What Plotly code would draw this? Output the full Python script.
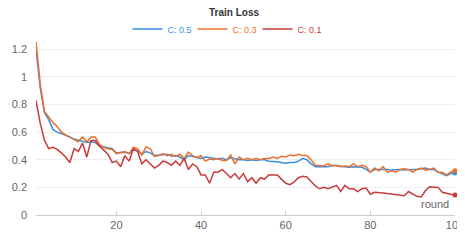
import plotly.graph_objects as go

rounds = list(range(1, 101))

loss_c05 = [
    1.20, 0.92, 0.74, 0.69, 0.62, 0.60, 0.59, 0.58, 0.565, 0.55,
    0.54, 0.53, 0.525, 0.53, 0.525, 0.50, 0.495, 0.49, 0.48, 0.45,
    0.45, 0.455, 0.445, 0.47, 0.465, 0.44, 0.46, 0.45, 0.43, 0.435,
    0.435, 0.44, 0.425, 0.43, 0.42, 0.40, 0.43, 0.425, 0.42, 0.41,
    0.42, 0.415, 0.41, 0.405, 0.41, 0.40, 0.415, 0.405, 0.40, 0.40,
    0.395, 0.40, 0.395, 0.40, 0.40, 0.39, 0.39, 0.385, 0.38, 0.375,
    0.38, 0.38, 0.39, 0.41, 0.40, 0.37, 0.35, 0.35, 0.355, 0.35,
    0.36, 0.355, 0.35, 0.35, 0.345, 0.35, 0.35, 0.345, 0.33, 0.31,
    0.33, 0.33, 0.335, 0.33, 0.325, 0.33, 0.33, 0.325, 0.33, 0.33,
    0.33, 0.335, 0.34, 0.33, 0.33, 0.31, 0.295, 0.285, 0.30, 0.305,
]

loss_c03 = [
    1.255, 0.95, 0.75, 0.71, 0.67, 0.64, 0.60, 0.58, 0.565, 0.545,
    0.53, 0.565, 0.53, 0.565, 0.565, 0.51, 0.49, 0.48, 0.475, 0.445,
    0.455, 0.46, 0.445, 0.49, 0.48, 0.435, 0.495, 0.48, 0.425, 0.43,
    0.445, 0.43, 0.44, 0.425, 0.44, 0.41, 0.455, 0.43, 0.415, 0.43,
    0.39, 0.405, 0.40, 0.41, 0.395, 0.395, 0.435, 0.37, 0.42, 0.40,
    0.41, 0.40, 0.41, 0.40, 0.41, 0.41, 0.42, 0.41, 0.425, 0.42,
    0.435, 0.43, 0.44, 0.43, 0.43, 0.40, 0.36, 0.36, 0.355, 0.37,
    0.355, 0.36, 0.35, 0.355, 0.35, 0.37, 0.35, 0.36, 0.35, 0.31,
    0.34, 0.32, 0.35, 0.31, 0.32, 0.31, 0.33, 0.335, 0.33, 0.31,
    0.33, 0.34, 0.325, 0.33, 0.34, 0.31, 0.31, 0.29, 0.31, 0.32,
]

loss_c01 = [
    0.83, 0.665, 0.54, 0.48, 0.49, 0.475, 0.45, 0.42, 0.38, 0.48,
    0.46, 0.52, 0.42, 0.54, 0.54, 0.50, 0.47, 0.44, 0.38, 0.39,
    0.35, 0.43, 0.39, 0.48, 0.46, 0.37, 0.40, 0.37, 0.34, 0.36,
    0.39, 0.38, 0.36, 0.39, 0.36, 0.41, 0.33, 0.37, 0.35, 0.29,
    0.29, 0.23, 0.31, 0.31, 0.33, 0.30, 0.27, 0.30, 0.26, 0.30,
    0.24, 0.27, 0.23, 0.27, 0.26, 0.29, 0.29, 0.29, 0.26, 0.23,
    0.22, 0.24, 0.27, 0.28, 0.275, 0.24, 0.21, 0.19, 0.20, 0.19,
    0.205, 0.215, 0.17, 0.215, 0.19, 0.19, 0.17, 0.19, 0.195, 0.15,
    0.165, 0.165, 0.16, 0.155, 0.15, 0.145, 0.145, 0.14, 0.17, 0.15,
    0.135, 0.13, 0.175, 0.205, 0.20, 0.20, 0.165, 0.155, 0.15, 0.145,
]

series_names = ["C: 0.5", "C: 0.3", "C: 0.1"]
series_values = [loss_c05, loss_c03, loss_c01]
series_colors = ["#3a8ee0", "#e9702d", "#c93a3a"]

y_ticks = [0, 0.2, 0.4, 0.6, 0.8, 1.0, 1.2]
y_tick_text = ["0", "0.2", "0.4", "0.6", "0.8", "1", "1.2"]
x_ticks = [20, 40, 60, 80, 100]

font_family = "Liberation Sans, Arial, Helvetica, sans-serif"

# the page body adds an 8px offset; keep the page from overflowing vertically
W, H = 457, 225

fig = go.Figure()
for name, vals, col in zip(series_names, series_values, series_colors):
    fig.add_trace(go.Scatter(
        x=rounds, y=vals, mode="lines",
        name=f"<span style='color:{col}'>{name}</span>",
        line=dict(color=col, width=1.5),
    ))
for name, vals, col in zip(series_names, series_values, series_colors):
    fig.add_trace(go.Scatter(
        x=[rounds[-1]], y=[vals[-1]], mode="markers",
        marker=dict(color=col, size=5),
        showlegend=False, cliponaxis=False,
    ))

fig.update_layout(
    width=W, height=H,
    margin=dict(l=28, r=10, t=33, b=18, autoexpand=False),
    paper_bgcolor="white", plot_bgcolor="white",
    font=dict(family=font_family, size=11, color="#666"),
    title=dict(text="<b>Train Loss</b>", x=226 / W, xanchor="center",
               y=1 - 4.5 / H, yanchor="middle",
               font=dict(size=10, color="#333", family=font_family)),
    legend=dict(orientation="h", x=217 / W, xref="container", xanchor="center",
                y=1 - 21 / H, yref="container", yanchor="middle",
                font=dict(size=9), itemwidth=30,
                entrywidth=20, entrywidthmode="pixels",
                bgcolor="rgba(0,0,0,0)"),
    showlegend=True,
    xaxis=dict(range=[1, 100], tickvals=x_ticks, showgrid=False,
               zeroline=False, showline=True, linecolor="#ccc", linewidth=1,
               ticks="inside", ticklen=4, tickcolor="#ccc", automargin=False,
               ticklabeloverflow="allow",
               tickfont=dict(size=11, color="#666")),
    yaxis=dict(range=[0, 1.26], tickvals=y_ticks, ticktext=y_tick_text,
               showgrid=True, gridcolor="#eee", gridwidth=1, automargin=False,
               zeroline=False, showline=False, ticklabelstandoff=8,
               tickfont=dict(size=11, color="#666")),
    annotations=[dict(text="round", xref="paper", yref="paper",
                      x=1, y=0, xanchor="right", yanchor="bottom",
                      xshift=-4, yshift=3, showarrow=False,
                      font=dict(size=11, color="#666"))],
)

fig.write_html("out.html")
